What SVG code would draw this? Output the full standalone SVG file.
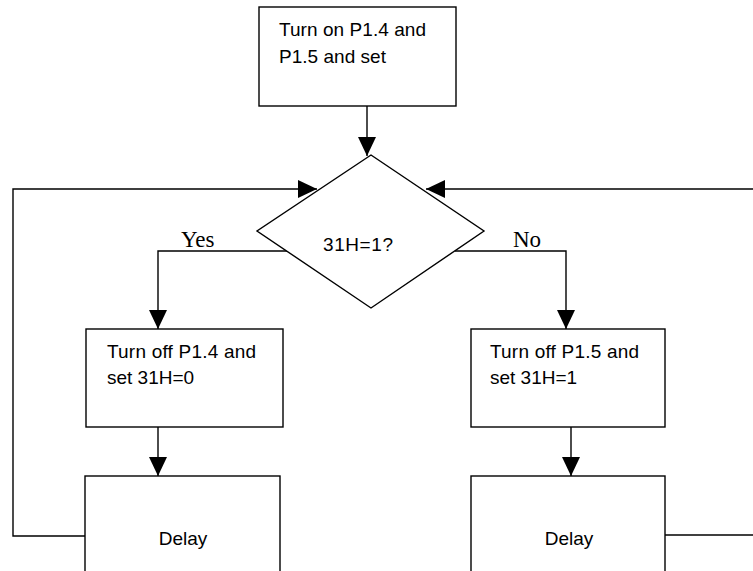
<svg xmlns="http://www.w3.org/2000/svg" width="753" height="571" viewBox="0 0 753 571">
  <style>
    .box { fill: #ffffff; stroke: #000000; stroke-width: 1.4; }
    .line { fill: none; stroke: #000000; stroke-width: 1.4; }
    .lbl { font-family: "Liberation Sans", Arial, sans-serif; font-size: 19px; fill: #000000; }
    .branch { font-family: "Liberation Serif", "Times New Roman", serif; font-size: 23px; fill: #000000; }
  </style>
  <defs>
    <marker id="arrow" viewBox="0 0 19 18" refX="19" refY="9" markerWidth="19" markerHeight="18" markerUnits="userSpaceOnUse" orient="auto">
      <path d="M0,0 L19,9 L0,18 Z" fill="#000000"/>
    </marker>
  </defs>

  <rect width="753" height="571" fill="#ffffff"/>

  <!-- connectors -->
  <g id="connectors">
    <!-- start box to decision -->
    <line class="line" x1="367" y1="106" x2="367" y2="156" marker-end="url(#arrow)"/>
    <!-- Yes branch -->
    <polyline class="line" points="287,251 158,251 158,329" marker-end="url(#arrow)"/>
    <!-- No branch -->
    <polyline class="line" points="455,251 566,251 566,329" marker-end="url(#arrow)"/>
    <!-- action boxes to delays -->
    <line class="line" x1="158" y1="427" x2="158" y2="476" marker-end="url(#arrow)"/>
    <line class="line" x1="571" y1="427" x2="571" y2="476" marker-end="url(#arrow)"/>
    <!-- left loop back to decision -->
    <polyline class="line" points="85,536 13,536 13,189 317,189" marker-end="url(#arrow)"/>
    <!-- right loop back to decision -->
    <polyline class="line" points="665,535 753,535"/>
    <polyline class="line" points="753,189 426,189" marker-end="url(#arrow)"/>
  </g>

  <!-- start -->
  <g id="start">
    <rect class="box" x="259" y="7" width="197" height="99"/>
    <text class="lbl" x="279" y="36" textLength="147" lengthAdjust="spacing">Turn on P1.4 and</text>
    <text class="lbl" x="279" y="63" textLength="107" lengthAdjust="spacing">P1.5 and set</text>
  </g>

  <!-- decision -->
  <g id="decision">
    <polygon class="box" points="371,155 484,231 371,308 257,231"/>
    <text class="lbl" x="323" y="251" textLength="70" lengthAdjust="spacing">31H=1?</text>
  </g>

  <g id="label-yes"><text class="branch" x="181" y="247">Yes</text></g>
  <g id="label-no"><text class="branch" x="513" y="247">No</text></g>

  <!-- yes branch action -->
  <g id="turn-off-p14">
    <rect class="box" x="86" y="329" width="197" height="98"/>
    <text class="lbl" x="107" y="358" textLength="149" lengthAdjust="spacing">Turn off P1.4 and</text>
    <text class="lbl" x="107" y="384">set 31H=0</text>
  </g>

  <!-- no branch action -->
  <g id="turn-off-p15">
    <rect class="box" x="471" y="329" width="194" height="98"/>
    <text class="lbl" x="490" y="358" textLength="149" lengthAdjust="spacing">Turn off P1.5 and</text>
    <text class="lbl" x="490" y="384">set 31H=1</text>
  </g>

  <!-- delays -->
  <g id="delay-left">
    <rect class="box" x="85" y="476" width="195" height="110"/>
    <text class="lbl" x="183" y="545" text-anchor="middle">Delay</text>
  </g>
  <g id="delay-right">
    <rect class="box" x="471" y="476" width="194" height="110"/>
    <text class="lbl" x="569" y="545" text-anchor="middle">Delay</text>
  </g>
</svg>
